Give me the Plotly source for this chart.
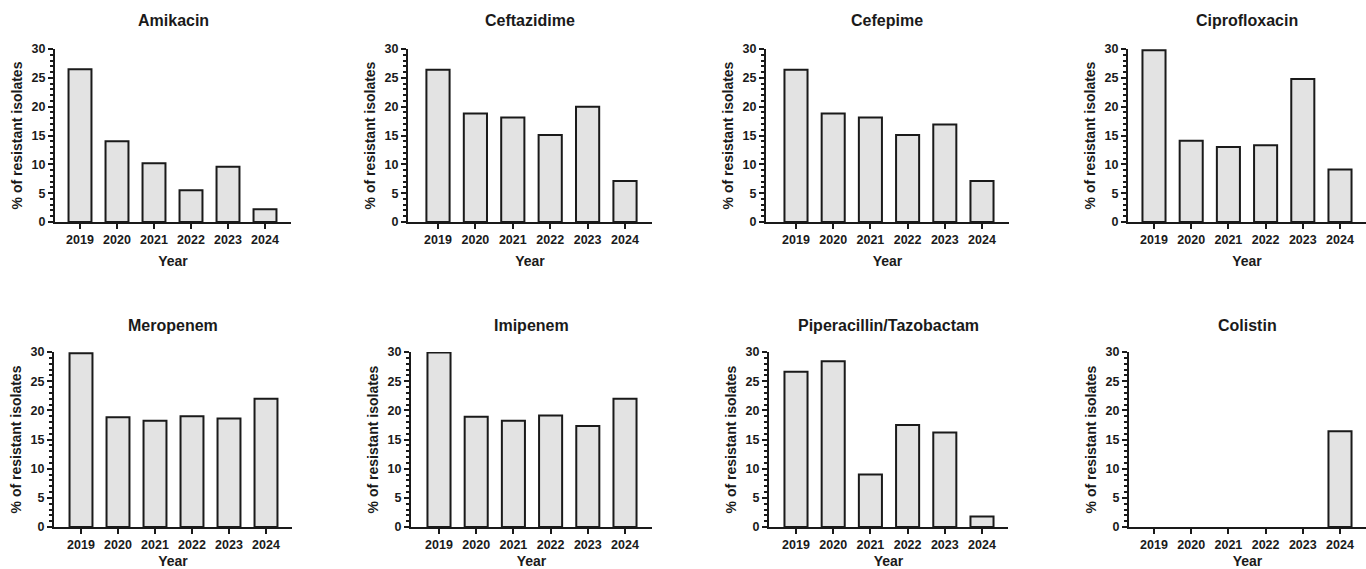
import plotly.graph_objects as go

W, H = 1366, 569

years = ["2019", "2020", "2021", "2022", "2023", "2024"]
antibiotics = ["Amikacin", "Ceftazidime", "Cefepime", "Ciprofloxacin",
               "Meropenem", "Imipenem", "Piperacillin/Tazobactam", "Colistin"]

amikacin = [26.5, 14.0, 10.2, 5.5, 9.6, 2.2]
ceftazidime = [26.4, 18.8, 18.1, 15.1, 20.0, 7.1]
cefepime = [26.4, 18.8, 18.1, 15.1, 16.9, 7.1]
ciprofloxacin = [29.8, 14.1, 13.0, 13.3, 24.8, 9.1]
meropenem = [29.8, 18.8, 18.2, 19.0, 18.6, 22.0]
imipenem = [29.9, 18.9, 18.2, 19.1, 17.3, 22.0]
pip_tazo = [26.6, 28.4, 9.0, 17.5, 16.2, 1.8]
colistin = [0, 0, 0, 0, 0, 16.4]

series = [amikacin, ceftazidime, cefepime, ciprofloxacin,
          meropenem, imipenem, pip_tazo, colistin]

y_ticks = [0, 5, 10, 15, 20, 25, 30]

# layout geometry in pixels: (axis left, first bar centre, last bar centre, axis right)
geom = [
    (55, 80, 265, 291), (408, 438, 625, 652), (766, 796, 982, 1009), (1128, 1154, 1340, 1366),
    (54, 81, 266, 292), (411, 439, 625, 652), (769, 796, 982, 1008), (1129, 1154, 1340, 1366),
]
# rows: (pixel y of value 0, pixel y of value 30, title centre y)
rows = [(222, 49, 21), (527, 352, 325)]

FONT = "Arial, Liberation Sans, sans-serif"
INK = "#1a1a1a"

fig = go.Figure()
annotations = []
for i, (name, vals) in enumerate(zip(antibiotics, series)):
    k = i + 1
    left, c0, c5, right = geom[i]
    y0px, y30px, ty = rows[i // 4]
    sp = (c5 - c0) / 5.0
    xr = [-(c0 - left) / sp, 5 + (right - c5) / sp]
    xdom = [left / W, min(right / W, 1.0)]
    ydom = [(H - y0px) / H, (H - y30px) / H]

    fig.add_trace(go.Bar(
        x=years, y=vals, width=0.62,
        marker=dict(color="#e3e3e3",
                    line=dict(color=INK, width=[2 if v > 0 else 0 for v in vals])),
        xaxis=f"x{k}", yaxis=f"y{k}", showlegend=False,
    ))

    fig.update_layout(**{
        f"xaxis{k}": dict(
            domain=xdom, anchor=f"y{k}", type="category", range=xr,
            showline=True, linewidth=2, linecolor=INK, showgrid=False, zeroline=False,
            ticks="outside", ticklen=5, tickwidth=2, tickcolor=INK,
            tickfont=dict(family=FONT, size=12.5, color=INK, weight="bold"),
            title=dict(text="Year", standoff=10,
                       font=dict(family=FONT, size=14, color=INK, weight="bold")),
            fixedrange=True, automargin=False,
        ),
        f"yaxis{k}": dict(
            domain=ydom, anchor=f"x{k}", range=[0, 30],
            tickmode="array", tickvals=y_ticks,
            showline=True, linewidth=2, linecolor=INK, showgrid=False, zeroline=False,
            ticks="outside", ticklen=5, tickwidth=2, tickcolor=INK,
            minor=dict(dtick=1, ticks="outside", ticklen=3, tickwidth=1.5, tickcolor=INK, showgrid=False),
            tickfont=dict(family=FONT, size=12.5, color=INK, weight="bold"),
            title=dict(text="% of resistant isolates", standoff=6,
                       font=dict(family=FONT, size=14, color=INK, weight="bold")),
            fixedrange=True, automargin=False,
        ),
    })

    annotations.append(dict(
        text=f"<b>{name}</b>", xref="paper", yref="paper",
        x=(xdom[0] + xdom[1]) / 2, y=1 - ty / H, xanchor="center", yanchor="middle",
        showarrow=False, font=dict(family=FONT, size=16, color=INK),
    ))

fig.update_layout(
    width=W, height=H, autosize=False,
    margin=dict(l=0, r=0, t=0, b=0, pad=0, autoexpand=False),
    paper_bgcolor="white", plot_bgcolor="white",
    annotations=annotations, bargap=0.38, showlegend=False,
)

fig.write_html(
    "out.html",
    config={"displayModeBar": False},
    post_script="document.body.style.margin='0px';document.body.style.overflow='hidden';",
)
